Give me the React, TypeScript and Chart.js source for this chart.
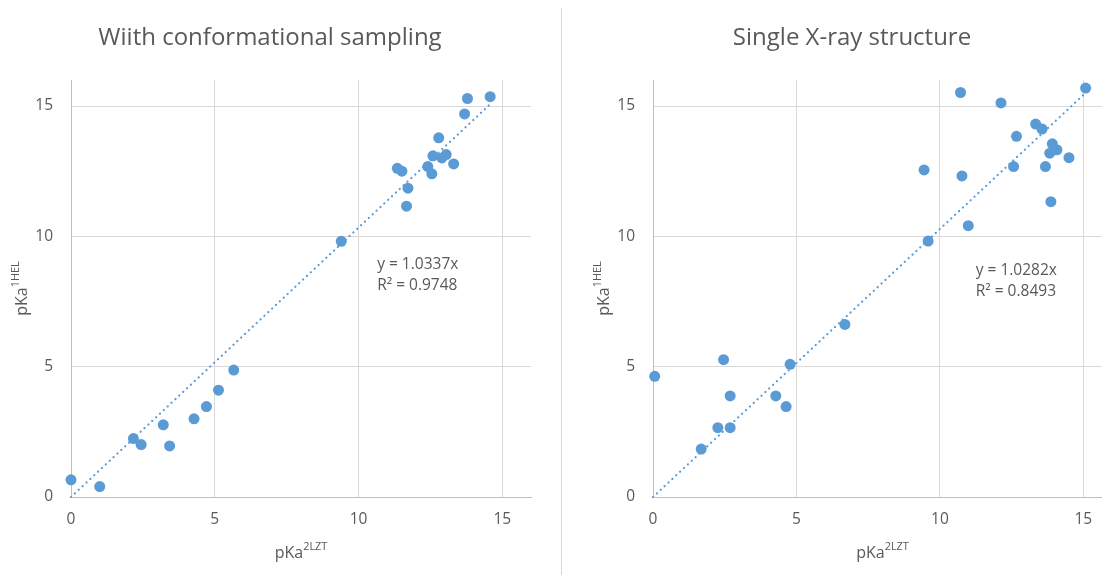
import React, { useEffect, useRef } from "react";
import { Chart, registerables } from "chart.js";
Chart.register(...registerables);

// ---- Data ----
const leftTitle = "Wiith conformational sampling";
const rightTitle = "Single X-ray structure";

const leftX = [0, 1.0, 2.17, 2.44, 3.21, 3.43, 4.28, 4.71, 5.13, 5.66, 9.4, 11.35, 11.51, 11.72, 11.67, 12.41, 12.55, 12.59, 12.9, 13.05, 12.79, 13.31, 13.69, 13.79, 14.58];
const leftY = [0.66, 0.4, 2.24, 2.01, 2.77, 1.96, 3.0, 3.47, 4.1, 4.87, 9.81, 12.61, 12.5, 11.85, 11.16, 12.68, 12.4, 13.09, 13.01, 13.14, 13.78, 12.78, 14.7, 15.29, 15.36];

const rightX = [0.06, 2.46, 4.78, 2.69, 4.28, 4.64, 2.26, 2.69, 1.68, 6.69, 9.59, 10.99, 13.87, 10.77, 9.45, 12.57, 13.68, 14.5, 13.83, 14.08, 13.92, 12.67, 13.56, 13.34, 12.13, 10.72, 15.08];
const rightY = [4.63, 5.27, 5.09, 3.88, 3.88, 3.47, 2.66, 2.66, 1.84, 6.62, 9.82, 10.41, 11.33, 12.32, 12.55, 12.68, 12.68, 13.02, 13.19, 13.32, 13.55, 13.84, 14.12, 14.31, 15.12, 15.52, 15.69];

const leftSlope = 1.0337;
const leftR2 = "0.9748";
const rightSlope = 1.0282;
const rightR2 = "0.8493";

const axisTicks = [0, 5, 10, 15];
const axisMin = 0;
const axisMax = 16;

// equation label anchor (data coordinates)
const leftLabelAt = { x: 10.65, y: 8.93 };
const rightLabelAt = { x: 11.25, y: 8.7 };

const BLUE = "#5B9BD5";
const TEXT = "#595959";
const FONT = "'Open Sans', 'Liberation Sans', sans-serif";

function drawSup(ctx: CanvasRenderingContext2D, main: string, sup: string, cx: number, cy: number, size: number) {
  ctx.font = `${size}px ${FONT}`;
  const w1 = ctx.measureText(main).width;
  ctx.font = `${size * 0.68}px ${FONT}`;
  const w2 = ctx.measureText(sup).width;
  const total = w1 + w2;
  const start = cx - total / 2;
  ctx.textAlign = "left";
  ctx.textBaseline = "middle";
  ctx.font = `${size}px ${FONT}`;
  ctx.fillText(main, start, cy);
  ctx.font = `${size * 0.68}px ${FONT}`;
  ctx.fillText(sup, start + w1, cy - size * 0.36);
}

const decoPlugin = {
  id: "deco",
  afterDraw(chart: any, _args: any, opts: any) {
    const ctx: CanvasRenderingContext2D = chart.ctx;
    const area = chart.chartArea;
    const xs = chart.scales.x;
    const ys = chart.scales.y;
    ctx.save();
    ctx.fillStyle = TEXT;
    // title
    ctx.font = `24px ${FONT}`;
    ctx.textAlign = "center";
    ctx.textBaseline = "middle";
    ctx.fillText(opts.title, opts.titleX, 38);
    // x axis title
    drawSup(ctx, "pKa", "2LZT", (area.left + area.right) / 2, 553, 16);
    // y axis title
    ctx.save();
    ctx.translate(area.left - 49, (area.top + area.bottom) / 2);
    ctx.rotate(-Math.PI / 2);
    drawSup(ctx, "pKa", "1HEL", 0, 0, 16);
    ctx.restore();
    // equation
    const ex = xs.getPixelForValue(opts.labelAt.x);
    const ey = ys.getPixelForValue(opts.labelAt.y);
    ctx.font = `15.5px ${FONT}`;
    ctx.textAlign = "left";
    ctx.textBaseline = "middle";
    ctx.fillText(`y = ${opts.slope}x`, ex, ey);
    ctx.fillText(`R² = ${opts.r2}`, ex, ey + 21);
    ctx.restore();
  },
};

function makeConfig(xs: number[], ys: number[], slope: number, r2: string, title: string, titleX: number, yWidth: number, padRight: number, labelAt: any) {
  const pts = xs.map((x, i) => ({ x, y: ys[i] }));
  const xmax = Math.max(...xs);
  const trend = [
    { x: 0, y: 0 },
    { x: xmax, y: slope * xmax },
  ];
  const tickFont = { family: FONT, size: 15.5 };
  return {
    type: "scatter",
    data: {
      datasets: [
        {
          type: "line",
          data: trend,
          borderColor: BLUE,
          borderWidth: 2.2,
          borderDash: [0.1, 5.2],
          borderCapStyle: "round",
          pointRadius: 0,
          fill: false,
          clip: false,
        },
        {
          data: pts,
          backgroundColor: BLUE,
          borderColor: BLUE,
          pointRadius: 5.5,
          pointBorderWidth: 0,
          clip: false,
        },
      ],
    },
    options: {
      animation: false,
      responsive: false,
      events: [],
      layout: { padding: { left: 0, right: padRight, top: 80, bottom: 0 } },
      plugins: {
        legend: { display: false },
        tooltip: { enabled: false },
        title: { display: false },
        deco: { title, titleX, slope, r2, labelAt },
      },
      scales: {
        x: {
          type: "linear",
          min: axisMin,
          max: axisMax,
          afterBuildTicks: (s: any) => {
            s.ticks = axisTicks.map((v) => ({ value: v }));
          },
          ticks: { color: TEXT, font: tickFont, padding: 13, includeBounds: false },
          grid: { color: "#d9d9d9", drawTicks: false, lineWidth: 1 },
          border: { color: "#bfbfbf", width: 1 },
          afterFit: (s: any) => {
            s.height = 78;
          },
        },
        y: {
          type: "linear",
          min: axisMin,
          max: axisMax,
          afterBuildTicks: (s: any) => {
            s.ticks = axisTicks.map((v) => ({ value: v }));
          },
          ticks: { color: TEXT, font: tickFont, padding: 18, includeBounds: false },
          grid: { color: "#d9d9d9", drawTicks: false, lineWidth: 1 },
          border: { color: "#bfbfbf", width: 1 },
          afterFit: (s: any) => {
            s.width = yWidth;
          },
        },
      },
    },
    plugins: [decoPlugin],
  };
}

function Panel(props: { cfg: () => any; left: number; width: number }) {
  const ref = useRef<HTMLCanvasElement | null>(null);
  useEffect(() => {
    if (!ref.current) return;
    const chart = new Chart(ref.current, props.cfg() as any);
    return () => chart.destroy();
  }, []);
  return (
    <canvas
      ref={ref}
      width={props.width}
      height={575}
      style={{ position: "absolute", left: props.left, top: 0, width: props.width, height: 575 }}
    />
  );
}

export default function App() {
  return (
    <div
      style={{
        position: "fixed",
        left: 0,
        top: 0,
        width: 1102,
        height: 575,
        overflow: "hidden",
        background: "#ffffff",
      }}
    >
      <Panel
        left={0}
        width={561}
        cfg={() => makeConfig(leftX, leftY, leftSlope, leftR2, leftTitle, 270, 71, 30, leftLabelAt)}
      />
      <div style={{ position: "absolute", left: 561, top: 8, width: 1, height: 567, background: "#d9d9d9" }} />
      <Panel
        left={562}
        width={560}
        cfg={() => makeConfig(rightX, rightY, rightSlope, rightR2, rightTitle, 290, 91, 10, rightLabelAt)}
      />
    </div>
  );
}
